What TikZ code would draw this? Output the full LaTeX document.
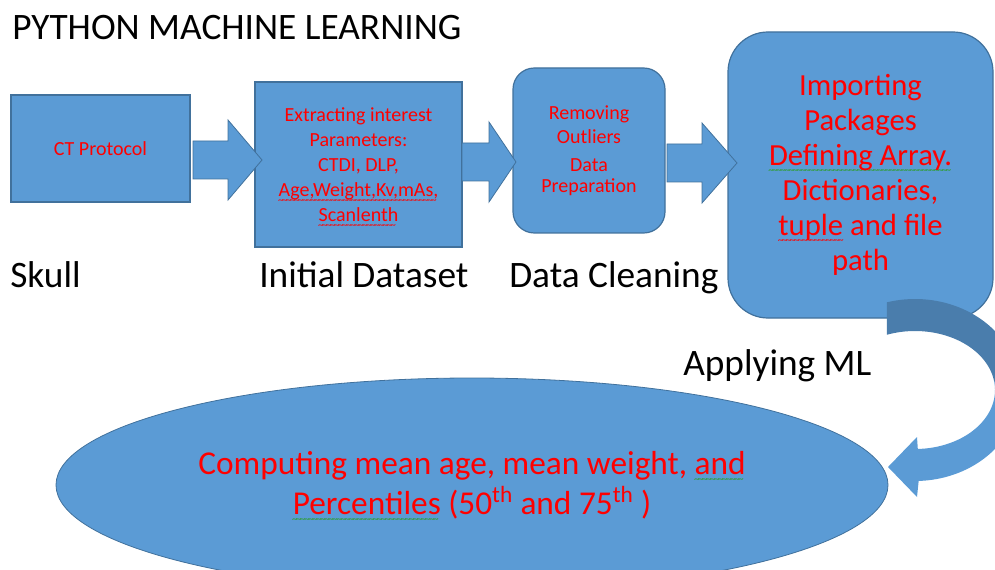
\documentclass[tikz,border=0pt]{standalone}
\usepackage{fontspec}
\setmainfont{Carlito}
\usetikzlibrary{calc,shapes.geometric}
\definecolor{fillblue}{HTML}{5B9BD5}
\definecolor{edgeblue}{HTML}{41719C}
\definecolor{darkblue}{HTML}{4A7DAC}
\definecolor{txtred}{HTML}{FF0000}
\definecolor{wavegreen}{HTML}{2E9E2E}
\newsavebox\wvbox
\newcommand\wavy[3]{\sbox\wvbox{#3}\rlap{\raisebox{-#2}[0pt][0pt]{\textcolor{#1}{\hbox to \wd\wvbox{\fontsize{8}{8}\selectfont\leaders\hbox{\kern-0.06em\textasciitilde\kern-0.06em}\hfill}}}}\usebox\wvbox}
\newcommand\blockarr[3]{%
  \fill[barrow] ($(#1)+(0,-19)$) -- ($(#2)+(-#3,-19)$) -- ($(#2)+(-#3,-40)$) -- (#2)
    -- ($(#2)+(-#3,40)$) -- ($(#2)+(-#3,19)$) -- ($(#1)+(0,19)$) -- cycle;}
\begin{document}
\begin{tikzpicture}[x=0.75pt,y=-0.75pt,
  procbox/.style={draw=edgeblue,line width=0.9pt,fill=fillblue,inner sep=0pt,align=center,text=txtred},
  barrow/.style={fill=fillblue,draw=edgeblue,line width=0.6pt},
  lbl/.style={inner sep=0pt,anchor=base west,font=\fontsize{28}{32}\selectfont,text=black}]
\useasboundingbox (0,0) rectangle (995,570);
\clip (0,0) rectangle (995,570);

% title and labels
\node[lbl] (title) at (12,40) {PYTHON MACHINE LEARNING};
\node[lbl] (lskull) at (10,287) {Skull};
\node[lbl] (linit) at (259,287) {Initial Dataset};
\node[lbl] (lclean) at (509,287) {Data Cleaning};
\node[lbl] (lml) at (683,375) {Applying ML};

% boxes
\node[procbox,minimum width=134.25pt,minimum height=80.25pt,font=\fontsize{15}{18.75}\selectfont]
  (b1) at (100.5,148.5) {CT Protocol};
\node[procbox,minimum width=155.25pt,minimum height=123.75pt,font=\fontsize{15}{18.75}\selectfont]
  (b2) at (358.5,164.5) {Extracting interest\\Parameters:\\CTDI, DLP,\\\wavy{txtred}{5pt}{Age,Weight,Kv,mAs,}\\\wavy{txtred}{5pt}{Scanlenth}};
\node[procbox,rounded corners=16pt,minimum width=114pt,minimum height=123.75pt,font=\fontsize{15}{18}\selectfont]
  (b3) at (589,150.5) {Removing\\Outliers\\[3pt]Data\\[-2pt]Preparation};
\node[procbox,rounded corners=30pt,minimum width=198.75pt,minimum height=214.5pt,font=\fontsize{23}{26.25}\selectfont]
  (b4) at (860.5,175) {Importing\\Packages\\\wavy{wavegreen}{6pt}{Defining Array.}\\Dictionaries,\\\wavy{txtred}{6pt}{tuple} and file\\path};

% block arrows between boxes
\coordinate (a1s) at (193,160);
\coordinate (a1e) at (262,160);
\coordinate (a2s) at (462,162);
\coordinate (a2e) at (516,162);
\coordinate (a3s) at (667,163);
\coordinate (a3e) at (737,163);
\blockarr{a1s}{a1e}{34}
\blockarr{a2s}{a2e}{27}
\blockarr{a3s}{a3e}{35}

% ellipse
\node[ellipse,draw=edgeblue,line width=0.6pt,fill=fillblue,inner sep=0pt,minimum width=624pt,minimum height=160.5pt,
  align=center,text=txtred,font=\fontsize{25}{30}\selectfont]
  (ell) at (472,485) {Computing mean age, mean weight, \wavy{wavegreen}{6pt}{and}\\\wavy{wavegreen}{6pt}{Percentiles} (50\textsuperscript{th} and 75\textsuperscript{th} )};

% curved block arrow from b4 to the ellipse
\coordinate (rc) at (915,390);
\fill[darkblue] plot[domain=-105.5:-8,samples=40] ({915+105*cos(\x)},{390+91*sin(\x)})
  -- plot[domain=-8:-110.5,samples=40] ({915+80*cos(\x)},{390+59*sin(\x)}) -- cycle;
\coordinate (tip) at (888,467);
\fill[fillblue] plot[domain=-8:88,samples=40] ({915+105*cos(\x)},{390+91*sin(\x)})
  -- (917,497) -- (tip) -- (917,437)
  -- plot[domain=88:-8,samples=40] ({915+80*cos(\x)},{390+59*sin(\x)}) -- cycle;
\end{tikzpicture}
\end{document}
